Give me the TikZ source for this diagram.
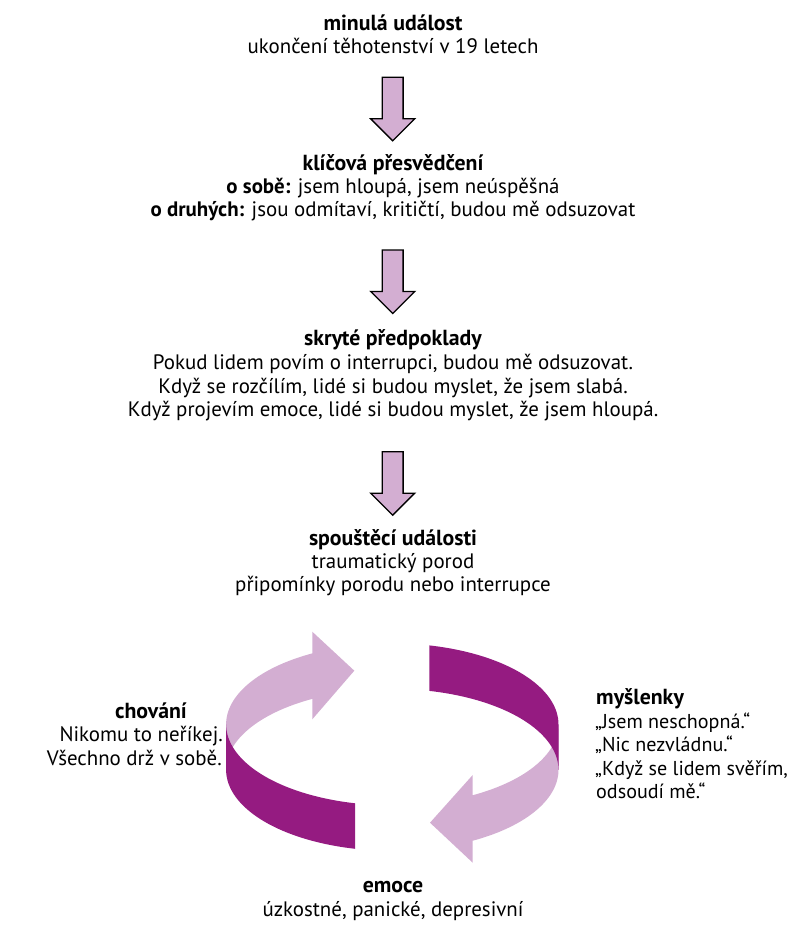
\documentclass[tikz,border=0pt]{standalone}
\usepackage{fontspec}
\setmainfont{PT Sans}
\definecolor{darkp}{HTML}{951B81}
\definecolor{lightp}{HTML}{D3AED2}
\begin{document}
\begin{tikzpicture}[x=1pt,y=-1pt,
  txt/.style={anchor=base, inner sep=0pt, font=\fontsize{20.9}{23}\selectfont},
  txtl/.style={txt, anchor=base west, font=\fontsize{20.1}{23}\selectfont},
  txtr/.style={txt, anchor=base east},
  hd/.style={txt, font=\fontsize{21.8}{23}\selectfont\bfseries},
  downarrow/.pic={\draw[fill=lightp, draw=black, line width=1.3pt, line join=miter]
     (-10.4,0) -- (10.4,0) -- (10.4,41.5) -- (22,41.5) -- (0,63.5) -- (-22,41.5) -- (-10.4,41.5) -- cycle;},
  lightband/.style={fill=lightp},
  darkband/.style={fill=darkp}]
\useasboundingbox (0,0) rectangle (793,930);

\def\cx{392.3}\def\rx{166.2}\def\ry{81}\def\ca{724.35}\def\cb{769.85}

% text blocks
\node[hd] (h1) at (393,30.7) {minulá událost};
\node[txt] (t1) at (393,53.3) {ukončení těhotenství v 19 letech};

\node[hd] (h2) at (393,170) {klíčová přesvědčení};
\node[txt] (t2a) at (393,193.3) {\textbf{o sobě:} jsem hloupá, jsem neúspěšná};
\node[txt] (t2b) at (393,216.7) {\textbf{o druhých:} jsou odmítaví, kritičtí, budou mě odsuzovat};

\node[hd] (h3) at (393,345) {skryté předpoklady};
\node[txt] (t3a) at (393,369.3) {Pokud lidem povím o interrupci, budou mě odsuzovat.};
\node[txt] (t3b) at (393,393.3) {Když se rozčílím, lidé si budou myslet, že jsem slabá.};
\node[txt] (t3c) at (393,416.7) {Když projevím emoce, lidé si budou myslet, že jsem hloupá.};

\node[hd] (h4) at (393,545) {spouštěcí události};
\node[txt] (t4a) at (393,568.3) {traumatický porod};
\node[txt] (t4b) at (393,591.7) {připomínky porodu nebo interrupce};

\node[hd, anchor=base east] (h5) at (187,718.3) {chování};
\node[txtr] (t5a) at (223,741.7) {Nikomu to neříkej.};
\node[txtr] (t5b) at (222,765) {Všechno drž v sobě.};

\node[hd, anchor=base west] (h6) at (596,704.3) {myšlenky};
\node[txtl] (t6a) at (595,728.3) {„Jsem neschopná.“};
\node[txtl] (t6b) at (595,751.7) {„Nic nezvládnu.“};
\node[txtl] (t6c) at (595,775) {„Když se lidem svěřím,};
\node[txtl] (t6d) at (596,798.3) {odsoudí mě.“};

\node[hd] (h7) at (393,892.7) {emoce};
\node[txt] (t7) at (393,916.7) {úzkostné, panické, depresivní};

% down arrows
\pic at (392.7,77.3) {downarrow};
\pic at (392.7,250) {downarrow};
\pic at (392.7,451.7) {downarrow};

% cycle: light parts first
\fill[lightband] plot[domain=180:241.26, samples=40, variable=\t] ({\cx+\rx*cos(\t)},{\ca+\ry*sin(\t)})
  -- (312.3,631.7) -- (354.3,670.7) -- (312.3,719.3)
  -- plot[domain=241.26:180, samples=40, variable=\t] ({\cx+\rx*cos(\t)},{\cb+\ry*sin(\t)}) -- cycle;
\fill[lightband] plot[domain=0:61.07, samples=40, variable=\t] ({\cx+\rx*cos(\t)},{\ca+\ry*sin(\t)})
  -- (472.7,775) -- (430,822.7) -- (472.7,862.7)
  -- plot[domain=61.07:0, samples=40, variable=\t] ({\cx+\rx*cos(\t)},{\cb+\ry*sin(\t)}) -- cycle;
% dark parts on top
\fill[darkband] plot[domain=180:102.97, samples=40, variable=\t] ({\cx+\rx*cos(\t)},{\ca+\ry*sin(\t)})
  -- plot[domain=102.97:180, samples=40, variable=\t] ({\cx+\rx*cos(\t)},{\cb+\ry*sin(\t)}) -- cycle;
\fill[darkband] plot[domain=282.86:360, samples=40, variable=\t] ({\cx+\rx*cos(\t)},{\ca+\ry*sin(\t)})
  -- plot[domain=360:282.86, samples=40, variable=\t] ({\cx+\rx*cos(\t)},{\cb+\ry*sin(\t)}) -- cycle;
\end{tikzpicture}
\end{document}
